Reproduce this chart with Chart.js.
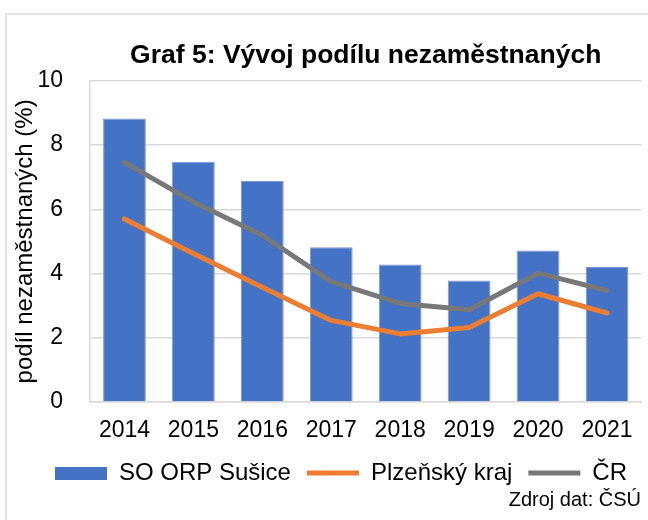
<!DOCTYPE html>
<html>
<head>
<meta charset="utf-8">
<script src="https://cdn.jsdelivr.net/npm/chart.js@4.4.1/dist/chart.umd.min.js"></script>
<style>
  html, body { margin: 0; padding: 0; background: #ffffff; }
  #wrap { position: relative; width: 648px; height: 520px; }
</style>
</head>
<body>
<div id="wrap"><canvas id="c" width="648" height="520"></canvas></div>
<script>
const categories = ['2014', '2015', '2016', '2017', '2018', '2019', '2020', '2021'];
const seriesNames = ['SO ORP Sušice', 'Plzeňský kraj', 'ČR'];
const orpSusice = [8.83, 7.48, 6.88, 4.82, 4.28, 3.78, 4.72, 4.20];
const plzenskyKraj = [5.70, 4.62, 3.57, 2.54, 2.12, 2.32, 3.37, 2.77];
const cr = [7.46, 6.23, 5.19, 3.75, 3.07, 2.87, 4.01, 3.47];
const yTicks = [0, 2, 4, 6, 8, 10];
const titleText = 'Graf 5: Vývoj podílu nezaměstnaných';
const yAxisTitle = 'podíl nezaměstnaných (%)';
const sourceText = 'Zdroj dat: ČSÚ';

const FONT = "'Liberation Sans', Arial, sans-serif";
const BLUE = '#4472C4';
const ORANGE = '#ED7D31';
const GRAY = '#787878';
const GRID = '#d9d9d9';

// legend swatch for bar series
const swatch = document.createElement('canvas');
swatch.width = 52; swatch.height = 13;
const sctx = swatch.getContext('2d');
sctx.fillStyle = BLUE; sctx.fillRect(0, 0, 52, 13);

const framePlugin = {
  id: 'frame',
  beforeDraw(chart) {
    const ctx = chart.ctx;
    ctx.save();
    ctx.fillStyle = '#ffffff';
    ctx.fillRect(0, 0, chart.width, chart.height);
    ctx.strokeStyle = GRID;
    ctx.lineWidth = 1.5;
    ctx.strokeRect(6, 14, 800, 800);
    ctx.restore();
  },
  afterDraw(chart) {
    const ctx = chart.ctx;
    ctx.save();
    ctx.font = '20px ' + FONT;
    ctx.fillStyle = '#000000';
    ctx.textAlign = 'right';
    ctx.textBaseline = 'middle';
    ctx.fillText(sourceText, 641, 500);
    ctx.restore();
  }
};

new Chart(document.getElementById('c'), {
  data: {
    labels: categories,
    datasets: [
      {
        type: 'bar',
        label: seriesNames[0],
        data: orpSusice,
        backgroundColor: BLUE,
        borderColor: '#7a9ad6',
        borderWidth: 1,
        categoryPercentage: 1.0,
        barPercentage: 0.62,
        pointStyle: swatch,
        order: 3
      },
      {
        type: 'line',
        label: seriesNames[1],
        data: plzenskyKraj,
        borderColor: ORANGE,
        backgroundColor: ORANGE,
        borderWidth: 5,
        borderCapStyle: 'round',
        borderJoinStyle: 'round',
        pointRadius: 0,
        pointStyle: 'line',
        tension: 0,
        order: 1
      },
      {
        type: 'line',
        label: seriesNames[2],
        data: cr,
        borderColor: GRAY,
        backgroundColor: GRAY,
        borderWidth: 5,
        borderCapStyle: 'round',
        borderJoinStyle: 'round',
        pointRadius: 0,
        pointStyle: 'line',
        tension: 0,
        order: 2
      }
    ]
  },
  options: {
    responsive: false,
    animation: false,
    devicePixelRatio: 1,
    layout: { padding: { left: 0, right: 5, top: 0, bottom: 25 } },
    plugins: {
      tooltip: { enabled: false },
      title: {
        display: true,
        text: titleText,
        fullSize: false,
        color: '#000000',
        font: { family: FONT, size: 26.5, weight: 'bold' },
        padding: { top: 40, bottom: 9 }
      },
      legend: {
        position: 'bottom',
        align: 'end',
        labels: {
          usePointStyle: true,
          pointStyleWidth: 52,
          boxHeight: 13,
          padding: 16,
          color: '#000000',
          font: { family: FONT, size: 24 },
          sort: (a, b) => a.datasetIndex - b.datasetIndex
        }
      }
    },
    scales: {
      x: {
        grid: { display: false, drawTicks: false },
        border: { display: true, color: GRID, width: 1.5 },
        ticks: { color: '#000000', font: { family: FONT, size: 23 }, padding: 15, maxRotation: 0 },
        afterFit(scale) { scale.height = 43; }
      },
      y: {
        min: 0,
        max: 10,
        afterBuildTicks(scale) { scale.ticks = yTicks.map(v => ({ value: v })); },
        grid: { color: GRID, lineWidth: 1.5, drawTicks: false },
        border: { display: true, color: GRID, width: 1.5 },
        ticks: { color: '#000000', font: { family: FONT, size: 23 }, padding: 27 },
        title: {
          display: true,
          text: yAxisTitle,
          color: '#000000',
          font: { family: FONT, size: 24 },
          padding: { top: 11, bottom: 0 }
        },
        afterFit(scale) { scale.width = 90; }
      }
    }
  },
  plugins: [framePlugin]
});
</script>
</body>
</html>
